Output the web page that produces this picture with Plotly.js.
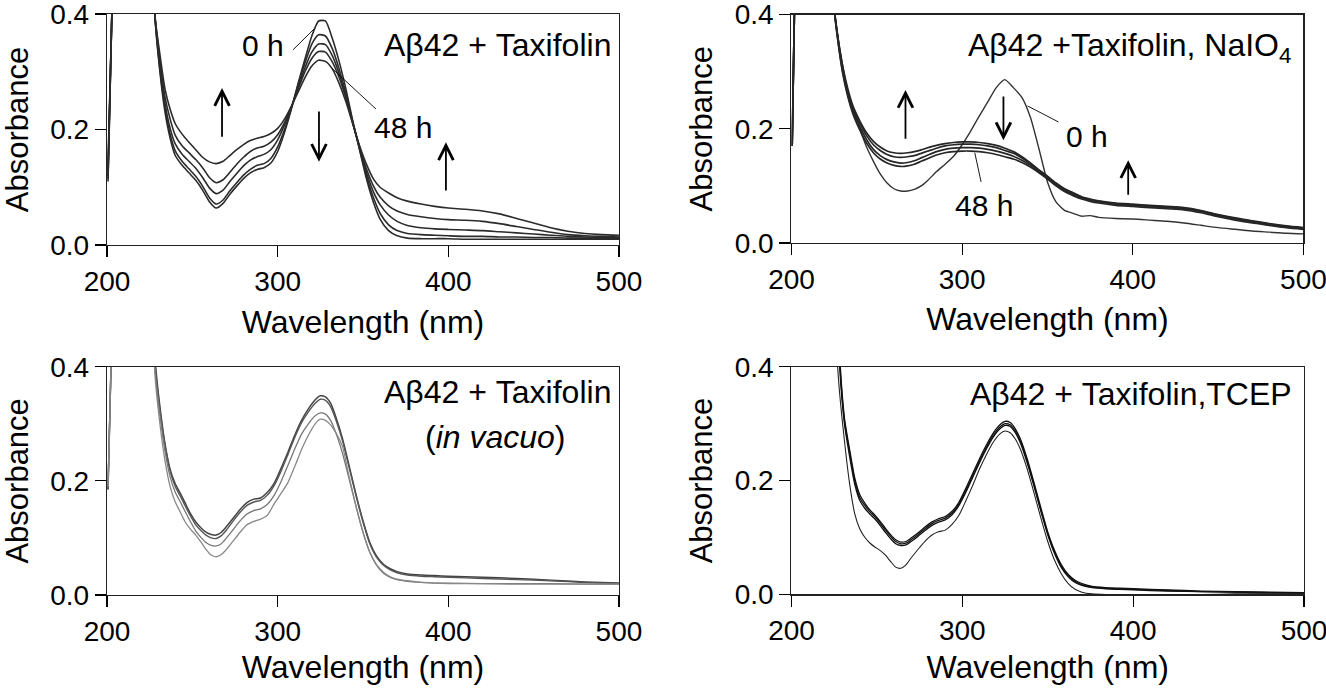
<!DOCTYPE html>
<html><head><meta charset="utf-8">
<script src="https://cdn.plot.ly/plotly-3.0.1.min.js"></script>
<style>html,body{margin:0;padding:0;background:#fff}#chart{width:1326px;height:691px}</style>
</head><body><div id="chart"></div>
<script>
// ---------- Panel 1: Aβ42 + Taxifolin (0 h ... 48 h) ----------
const wlTax = [200.6, 203, 205, 226, 228, 231, 234, 237, 240, 244, 248, 252, 256, 260, 264, 268, 272, 276, 280, 284, 288, 292, 296, 300, 304, 308, 312, 316, 320, 324, 328, 332, 336, 340, 344, 348, 352, 356, 360, 365, 370, 376, 384, 392, 400, 410, 420, 430, 440, 450, 460, 470, 480, 490, 500];
const tax0h  = [.11, .42, .6, .6, .40, .30, .23, .185, .155, .138, .125, .112, .095, .075, .064, .072, .088, .102, .115, .125, .131, .134, .142, .162, .195, .235, .28, .322, .362, .388, .388, .358, .318, .27, .215, .165, .115, .075, .045, .025, .016, .012, .011, .011, .011, .01, .01, .01, .01, .01, .01, .01, .01, .01, .01];
const taxT1  = [.115, .42, .6, .6, .40, .305, .237, .192, .163, .145, .132, .119, .102, .082, .071, .078, .094, .108, .121, .131, .138, .141, .15, .17, .2, .237, .277, .315, .348, .364, .362, .34, .305, .262, .213, .166, .12, .083, .055, .035, .025, .02, .018, .017, .016, .015, .015, .014, .014, .013, .013, .012, .012, .012, .012];
const taxT2  = [.12, .42, .6, .6, .40, .312, .245, .202, .175, .157, .145, .133, .117, .099, .089, .095, .11, .124, .137, .147, .153, .157, .165, .182, .208, .238, .273, .307, .334, .348, .347, .328, .297, .258, .212, .168, .126, .093, .07, .052, .041, .034, .03, .028, .027, .026, .025, .023, .021, .019, .017, .015, .014, .013, .013];
const taxT3  = [.13, .42, .6, .6, .40, .32, .256, .218, .19, .172, .16, .148, .134, .117, .108, .113, .126, .14, .152, .162, .168, .171, .178, .191, .212, .239, .27, .3, .323, .335, .334, .317, .29, .254, .211, .17, .132, .103, .083, .068, .059, .053, .049, .046, .044, .043, .041, .037, .032, .027, .022, .018, .016, .015, .014];
const tax48h = [.14, .42, .6, .6, .40, .33, .27, .235, .21, .192, .178, .165, .152, .144, .141, .145, .155, .165, .174, .181, .185, .188, .193, .202, .218, .24, .265, .29, .31, .32, .318, .305, .28, .248, .21, .172, .14, .115, .1, .09, .082, .076, .071, .067, .064, .062, .059, .054, .046, .038, .03, .024, .02, .018, .017];

// ---------- Panel 2: Aβ42 + Taxifolin, NaIO4 ----------
const wlNa = [200.4, 201.8, 204, 222, 224, 227, 230, 233, 236, 240, 244, 248, 252, 256, 260, 264, 268, 272, 276, 280, 285, 290, 295, 300, 305, 310, 315, 320, 325, 330, 335, 340, 345, 350, 355, 360, 365, 370, 375, 380, 390, 400, 410, 420, 430, 440, 450, 460, 470, 480, 490, 500];
const na0h = [.17, .42, .6, .6, .44, .365, .31, .262, .235, .2, .168, .143, .121, .105, .095, .091, .091, .094, .1, .11, .125, .138, .152, .172, .196, .222, .247, .272, .286, .272, .255, .22, .165, .107, .072, .057, .052, .047, .048, .045, .043, .042, .04, .038, .035, .031, .027, .024, .021, .019, .017, .016];
const naK1 = [.17, .42, .6, .6, .44, .365, .31, .27, .24, .214, .193, .178, .168, .161, .158, .157, .158, .16, .163, .167, .171, .174, .176, .177, .177, .176, .174, .171, .166, .16, .151, .14, .128, .117, .105, .095, .088, .081, .077, .074, .07, .068, .066, .064, .062, .057, .05, .044, .039, .034, .03, .027];
const naK2 = [.17, .42, .6, .6, .44, .362, .305, .265, .235, .21, .188, .172, .162, .155, .151, .15, .151, .153, .157, .161, .166, .17, .172, .173, .173, .172, .17, .167, .162, .157, .149, .139, .127, .116, .104, .094, .087, .08, .076, .073, .069, .067, .065, .063, .061, .056, .049, .043, .038, .033, .029, .026];
const naK3 = [.17, .42, .6, .6, .44, .36, .3, .26, .23, .204, .181, .164, .153, .146, .142, .14, .141, .144, .149, .154, .16, .164, .166, .167, .167, .166, .164, .161, .157, .152, .145, .136, .125, .114, .102, .092, .085, .079, .075, .072, .068, .066, .064, .062, .06, .055, .048, .042, .037, .032, .028, .025];
const naK4 = [.17, .42, .6, .6, .44, .358, .297, .256, .226, .198, .175, .158, .147, .14, .136, .134, .135, .138, .143, .148, .154, .158, .16, .161, .161, .16, .158, .155, .151, .147, .141, .133, .123, .112, .1, .09, .083, .077, .073, .07, .066, .064, .062, .06, .058, .053, .046, .04, .035, .031, .027, .024];

// ---------- Panel 3: Aβ42 + Taxifolin (in vacuo) ----------
const wlVac = [200.6, 202.5, 205, 226, 228, 231, 234, 237, 240, 243, 246, 249, 252, 255, 258, 261, 264, 267, 270, 274, 278, 282, 286, 290, 294, 298, 302, 306, 310, 314, 318, 322, 325, 328, 331, 334, 338, 342, 346, 350, 354, 358, 362, 366, 370, 376, 384, 392, 400, 420, 440, 460, 480, 500];
const vac1 = [.185, .42, .6, .6, .42, .33, .265, .22, .195, .178, .16, .142, .128, .118, .11, .106, .105, .11, .12, .135, .15, .162, .168, .17, .18, .196, .222, .25, .28, .306, .326, .342, .349, .347, .336, .313, .274, .225, .175, .13, .092, .068, .054, .046, .041, .037, .035, .034, .033, .031, .029, .026, .023, .021];
const vac2 = [.185, .42, .6, .6, .41, .325, .262, .217, .19, .173, .155, .138, .123, .113, .105, .1, .099, .104, .114, .13, .145, .157, .163, .166, .175, .192, .217, .246, .276, .302, .321, .336, .343, .341, .33, .308, .27, .222, .173, .128, .09, .066, .052, .044, .039, .035, .033, .032, .031, .029, .027, .025, .022, .02];
const vac3 = [.19, .42, .6, .6, .4, .315, .252, .207, .18, .163, .145, .128, .112, .101, .092, .087, .086, .09, .1, .115, .13, .142, .148, .151, .159, .175, .199, .227, .256, .282, .3, .314, .319, .317, .306, .285, .248, .202, .154, .11, .075, .052, .038, .031, .027, .024, .022, .021, .021, .02, .02, .02, .019, .019];
const vac4 = [.19, .42, .6, .6, .39, .3, .235, .19, .163, .145, .127, .115, .105, .093, .08, .07, .067, .071, .08, .095, .11, .123, .129, .133, .14, .16, .178, .197, .225, .255, .28, .3, .308, .306, .298, .285, .26, .205, .155, .11, .075, .053, .04, .032, .028, .025, .022, .021, .02, .02, .019, .019, .019, .019];

// ---------- Panel 4: Aβ42 + Taxifolin, TCEP ----------
const wlTc = [224, 226, 228, 231, 234, 237, 240, 243, 246, 249, 252, 255, 258, 261, 264, 267, 270, 274, 278, 282, 286, 290, 294, 298, 302, 306, 310, 314, 318, 322, 325, 328, 331, 334, 338, 342, 346, 350, 354, 358, 362, 366, 370, 376, 384, 392, 400, 420, 440, 460, 480, 500];
const tc1 = [.7, .6, .43, .31, .255, .205, .175, .16, .148, .139, .128, .116, .105, .096, .092, .093, .099, .108, .118, .127, .133, .137, .146, .162, .186, .212, .238, .262, .283, .298, .304, .302, .291, .273, .238, .196, .152, .11, .077, .052, .035, .025, .019, .014, .012, .011, .01, .008, .006, .005, .004, .003];
const tc2 = [.7, .6, .42, .305, .25, .2, .17, .156, .145, .136, .125, .113, .102, .093, .089, .09, .096, .105, .115, .124, .13, .134, .143, .159, .182, .208, .234, .258, .279, .294, .3, .298, .287, .269, .234, .192, .148, .107, .074, .049, .033, .023, .017, .013, .011, .01, .009, .007, .005, .004, .003, .003];
const tc3 = [.7, .6, .41, .3, .243, .194, .165, .151, .141, .132, .121, .109, .098, .089, .086, .087, .093, .102, .112, .121, .127, .131, .14, .156, .179, .205, .231, .255, .276, .291, .297, .295, .284, .266, .231, .19, .146, .105, .072, .047, .031, .021, .016, .012, .01, .009, .008, .006, .005, .004, .003, .002];
const tc4 = [.6, .45, .36, .27, .195, .142, .115, .1, .09, .083, .077, .069, .058, .048, .046, .052, .064, .079, .093, .104, .11, .113, .123, .139, .164, .191, .22, .245, .267, .282, .287, .284, .273, .255, .22, .178, .134, .093, .06, .036, .019, .009, .004, .001, 0, 0, 0, 0, 0, .001, .001, .001];

const xTicks = [200, 300, 400, 500];
const yTicks = [0, 0.2, 0.4];
const xTitle = 'Wavelength (nm)';
const yTitle = 'Absorbance';

function tr(x, y, xa, ya, color, width) {
  return {x: x, y: y, xaxis: xa, yaxis: ya, type: 'scatter', mode: 'lines',
    line: {color: color, width: width, shape: 'spline', smoothing: 0.6},
    hoverinfo: 'skip', showlegend: false};
}

const traces = [
  tr(wlTax, tax0h, 'x', 'y', '#2b2b2b', 1.6),
  tr(wlTax, taxT1, 'x', 'y', '#2b2b2b', 1.6),
  tr(wlTax, taxT2, 'x', 'y', '#2b2b2b', 1.6),
  tr(wlTax, taxT3, 'x', 'y', '#2b2b2b', 1.6),
  tr(wlTax, tax48h, 'x', 'y', '#2b2b2b', 1.6),
  tr(wlNa, na0h, 'x2', 'y2', '#333', 1.4),
  tr(wlNa, naK1, 'x2', 'y2', '#262626', 1.7),
  tr(wlNa, naK2, 'x2', 'y2', '#262626', 1.7),
  tr(wlNa, naK3, 'x2', 'y2', '#262626', 1.7),
  tr(wlNa, naK4, 'x2', 'y2', '#262626', 1.7),
  tr(wlVac, vac1, 'x3', 'y3', '#444', 1.5),
  tr(wlVac, vac2, 'x3', 'y3', '#555', 1.4),
  tr(wlVac, vac3, 'x3', 'y3', '#777', 1.3),
  tr(wlVac, vac4, 'x3', 'y3', '#888', 1.3),
  tr(wlTc, tc1, 'x4', 'y4', '#111', 1.3),
  tr(wlTc, tc2, 'x4', 'y4', '#111', 1.3),
  tr(wlTc, tc3, 'x4', 'y4', '#111', 1.3),
  tr(wlTc, tc4, 'x4', 'y4', '#222', 1.1)
];

const FONT = 'Liberation Sans, Arial, Helvetica, sans-serif';
function xax(domain, anchor, standoff) {
  return {domain: domain, anchor: anchor, range: [200, 500], tickvals: xTicks,
    ticks: 'outside', ticklen: 11, tickwidth: 1.2, tickcolor: '#000',
    showline: true, linecolor: '#222', linewidth: 1.2, mirror: true,
    showgrid: false, zeroline: false, fixedrange: true, ticklabeloverflow: 'allow',
    tickfont: {family: FONT, size: 28, color: '#000'},
    title: {text: xTitle, font: {family: FONT, size: 32, color: '#000'}, standoff: standoff}};
}
function yax(domain, anchor) {
  return {domain: domain, anchor: anchor, range: [0, 0.4], tickvals: yTicks, tickformat: '.1f',
    ticks: 'outside', ticklen: 11, tickwidth: 1.2, tickcolor: '#000',
    showline: true, linecolor: '#222', linewidth: 1.2, mirror: true,
    showgrid: false, zeroline: false, fixedrange: true, ticklabeloverflow: 'allow',
    tickfont: {family: FONT, size: 28, color: '#000'},
    title: {text: yTitle, font: {family: FONT, size: 31, color: '#000'}, standoff: 12}};
}

const txt = {family: FONT, size: 32, color: '#000'};
const txtSmall = {family: FONT, size: 30, color: '#000'};
function label(xr, yr, x, y, text, xanchor, font) {
  return {xref: xr, yref: yr, x: x, y: y, text: text, showarrow: false,
    xanchor: xanchor, yanchor: 'middle', font: font || txt};
}
function arrow(xr, yr, x, y0, y1) {
  return {xref: xr, yref: yr, axref: xr, ayref: yr, x: x, y: y1, ax: x, ay: y0, text: '',
    showarrow: true, arrowhead: 5, arrowsize: 1.6, arrowwidth: 1.8, arrowcolor: '#000'};
}
function leader(xr, yr, x0, y0, x1, y1) {
  return {type: 'line', xref: xr, yref: yr, x0: x0, y0: y0, x1: x1, y1: y1,
    line: {color: '#000', width: 0.9}};
}

const annotations = [
  label('x', 'y', 496.5, 0.346, 'A\u03b242 + Taxifolin', 'right'),
  label('x', 'y', 291.4, 0.345, '0 h', 'center', txtSmall),
  label('x', 'y', 373.4, 0.203, '48 h', 'center', txtSmall),
  arrow('x', 'y', 267.4, 0.185, 0.272),
  arrow('x', 'y', 324.2, 0.234, 0.144),
  arrow('x', 'y', 398.6, 0.092, 0.178),

  label('x2', 'y2', 494, 0.343, 'A\u03b242 +Taxifolin, NaIO<sub>4</sub>', 'right'),
  label('x2', 'y2', 373.1, 0.186, '0 h', 'center', txtSmall),
  label('x2', 'y2', 313.1, 0.065, '48 h', 'center', txtSmall),
  arrow('x2', 'y2', 266.8, 0.18, 0.268),
  arrow('x2', 'y2', 324.2, 0.259, 0.18),
  arrow('x2', 'y2', 397.3, 0.082, 0.145),

  label('x3', 'y3', 496.5, 0.356, 'A\u03b242 + Taxifolin', 'right'),
  label('x3', 'y3', 427.9, 0.277, '(<i>in vacuo</i>)', 'center'),

  label('x4', 'y4', 494, 0.352, 'A\u03b242 + Taxifolin,TCEP', 'right')
];

const shapes = [
  leader('x', 'y', 309.0, 0.338, 321.3, 0.374),
  leader('x', 'y', 357.6, 0.2355, 331.8, 0.306),
  leader('x2', 'y2', 356.4, 0.212, 338.3, 0.24),
  leader('x2', 'y2', 311.1, 0.107, 307.4, 0.158)
];

const layout = {
  width: 1326, height: 691,
  margin: {l: 0, r: 0, t: 0, b: 0},
  paper_bgcolor: '#fff', plot_bgcolor: '#fff',
  font: {family: FONT, color: '#000'},
  showlegend: false,
  xaxis: xax([0.0807, 0.4668], 'y', 14),
  yaxis: yax([0.6454, 0.9797], 'x'),
  xaxis2: xax([0.5969, 0.9830], 'y2', 13),
  yaxis2: yax([0.6483, 0.9790], 'x2'),
  xaxis3: xax([0.0807, 0.4668], 'y3', 9),
  yaxis3: yax([0.1389, 0.4693], 'x3'),
  xaxis4: xax([0.5969, 0.9834], 'y4', 10),
  yaxis4: yax([0.1397, 0.4693], 'x4'),
  annotations: annotations,
  shapes: shapes
};

Plotly.newPlot('chart', traces, layout, {displayModeBar: false, staticPlot: true});
</script>
</body></html>
